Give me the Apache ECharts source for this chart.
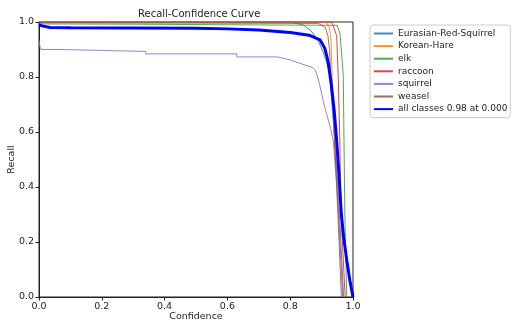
<!DOCTYPE html>
<html>
<head>
<meta charset="utf-8">
<script src="https://cdn.jsdelivr.net/npm/echarts@6/dist/echarts.min.js"></script>
<style>
  html, body { margin: 0; padding: 0; background: #fff; }
  #chart { width: 511px; height: 323px; }
</style>
</head>
<body>
<div id="chart"></div>
<script>
// [confidence, recall] pairs
const eurasianRedSquirrel = [[0, 1.0], [0.8, 1.0], [0.84, 0.99], [0.865, 0.97], [0.89, 0.93], [0.905, 0.89], [0.917, 0.85], [0.925, 0.82], [0.94, 0.6], [0.957, 0.3], [0.97, 0.0]];
const koreanHare = [[0, 1.0], [0.915, 1.0], [0.925, 0.98], [0.93, 0.93], [0.932, 0.86], [0.94, 0.6], [0.955, 0.3], [0.967, 0.0]];
const elk = [[0, 0.993], [0.3, 0.992], [0.6, 0.99], [0.95, 0.988], [0.955, 0.97], [0.959, 0.953], [0.969, 0.807], [0.971, 0.6], [0.974, 0.3], [0.98, 0.0]];
const raccoon = [[0, 1.0], [0.93, 1.0], [0.936, 0.99], [0.948, 0.95], [0.953, 0.8], [0.958, 0.57], [0.962, 0.3], [0.975, 0.0]];
const squirrel = [[0, 0.935], [0.003, 0.91], [0.006, 0.9], [0.07, 0.9], [0.07, 0.893], [0.34, 0.893], [0.34, 0.884], [0.63, 0.884], [0.63, 0.873], [0.76, 0.873], [0.8, 0.862], [0.83, 0.85], [0.87, 0.835], [0.88, 0.825], [0.89, 0.79], [0.9, 0.74], [0.91, 0.69], [0.927, 0.62], [0.937, 0.57], [0.948, 0.41], [0.958, 0.22], [0.968, 0.0]];
const weasel = [[0, 0.997], [0.89, 0.995], [0.912, 0.98], [0.92, 0.95], [0.925, 0.9], [0.94, 0.6], [0.952, 0.3], [0.963, 0.0]];
const allClasses = [[0, 0.99], [0.01, 0.986], [0.035, 0.98], [0.1, 0.979], [0.3, 0.978], [0.5, 0.977], [0.6, 0.975], [0.7, 0.971], [0.8, 0.962], [0.86, 0.952], [0.895, 0.935], [0.91, 0.905], [0.92, 0.86], [0.93, 0.78], [0.94, 0.68], [0.948, 0.57], [0.955, 0.45], [0.963, 0.3], [0.97, 0.22], [0.98, 0.135], [0.99, 0.06], [1.0, 0.0]];

const classNames = ['Eurasian-Red-Squirrel', 'Korean-Hare', 'elk', 'raccoon', 'squirrel', 'weasel', 'all classes 0.98 at 0.000'];
const classData = [eurasianRedSquirrel, koreanHare, elk, raccoon, squirrel, weasel, allClasses];
const colors = ['#1f77b4', '#ff7f0e', '#2ca02c', '#d62728', '#9467bd', '#8c564b', '#0000ff'];

const chart = echarts.init(document.getElementById('chart'));
const font = 'DejaVu Sans';

const series = classNames.map((name, i) => {
  const isAll = i === classNames.length - 1;
  return {
    name: name,
    type: 'line',
    data: classData[i],
    symbol: 'none',
    animation: false,
    z: isAll ? 5 : 2,
    lineStyle: {
      color: colors[i],
      width: isAll ? 3 : 1,
      opacity: isAll ? 1 : 0.85,
    },
    itemStyle: { color: colors[i] },
  };
});

const axisCommon = {
  type: 'value',
  min: 0,
  max: 1,
  interval: 0.2,
  axisLine: { show: true, lineStyle: { color: '#222', width: 1 } },
  axisTick: { show: true, inside: false, length: 3.5, lineStyle: { color: '#222' } },
  splitLine: { show: false },
  axisLabel: {
    color: '#222',
    fontFamily: font,
    fontSize: 9.5,
    margin: 5,
    formatter: v => v.toFixed(1),
  },
  nameLocation: 'middle',
  nameMoveOverlap: false,
  nameTextStyle: { color: '#222', fontFamily: font, fontSize: 9.5 },
};

chart.setOption({
  animation: false,
  backgroundColor: '#fff',
  title: {
    text: 'Recall-Confidence Curve',
    left: 133,
    top: 4,
    textStyle: { color: '#222', fontFamily: font, fontSize: 10, fontWeight: 'normal' },
  },
  grid: {
    left: 39, top: 22, width: 314, height: 275,
    outerBoundsMode: 'none',
    containLabel: false,
    show: true, borderColor: '#222', borderWidth: 1, backgroundColor: 'transparent',
  },
  legend: {
    orient: 'vertical',
    left: 370,
    top: 25,
    padding: [4, 3, 4, 3],
    itemWidth: 19,
    itemHeight: 8,
    itemGap: 3.6,
    borderColor: '#ccc',
    borderWidth: 1,
    borderRadius: 3,
    data: classNames,
    itemStyle: { opacity: 0 },
    textStyle: { color: '#222', fontFamily: font, fontSize: 9 },
  },
  xAxis: Object.assign({}, axisCommon, { name: 'Confidence', nameGap: 15 }),
  yAxis: Object.assign({}, axisCommon, { name: 'Recall', nameGap: 22 }),
  series: series,
});
</script>
</body>
</html>
